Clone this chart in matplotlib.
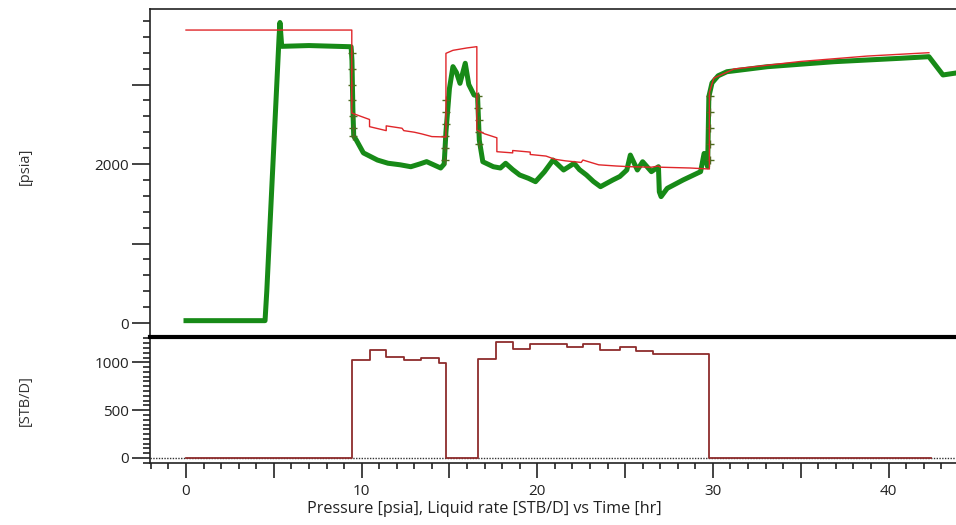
#!/usr/bin/env python3
"""
Pressure / liquid rate history plot vs time
top: measured gauge pressure (green) + model pressure (red)
bottom: liquid rate history (step)
"""

import matplotlib
matplotlib.use('Agg')
import matplotlib.pyplot as plt
from matplotlib.ticker import MultipleLocator, FixedLocator

plt.rcParams['font.family'] = ['Open Sans', 'DejaVu Sans']

# ---- measured pressure (gauge) [hr], [psia] ----
gauge_t = [0.0, 4.5, 4.6, 5.3, 5.35, 5.45, 7.0, 9.4, 9.45, 9.5, 9.55, 9.7,
           10.1, 10.9, 11.5, 12.2, 12.8, 13.3, 13.7, 14.1, 14.5, 14.7,
           14.8, 15.0, 15.2, 15.4, 15.6, 15.9, 16.1, 16.4, 16.6, 16.7,
           16.9, 17.5, 17.9, 18.2, 18.6, 19.0, 19.5, 19.9, 20.4, 20.9,
           21.5, 22.1, 22.4, 22.8, 23.2, 23.6, 24.3, 24.7,
           25.1, 25.3, 25.7, 26.0, 26.5, 26.9, 26.95, 27.05,
           27.4, 28.3, 29.3, 29.5, 29.7, 29.77, 29.95, 30.3, 30.8,
           33.1, 36.9, 40.7, 42.3, 43.1, 44.0]
gauge_p = [30, 30, 400, 3600, 3780, 3480, 3490, 3475, 3300, 2700, 2350, 2300,
           2140, 2050, 2010, 1990, 1966, 2000, 2030, 1990, 1950, 2000,
           2400, 2950, 3225, 3150, 3015, 3267, 3000, 2868, 2860, 2300,
           2029, 1966, 1950, 2009, 1930, 1862, 1820, 1778, 1900, 2050,
           1925, 2009, 1930, 1862, 1780, 1715, 1799, 1843,
           1925, 2113, 1925, 2029, 1904, 1966, 1650, 1590,
           1694, 1799, 1904, 2133, 1966, 2847, 3020, 3110, 3161,
           3224, 3287, 3330, 3350, 3120, 3150]

# '+' samples visible on the fast transients
mark_t = [9.45, 9.46, 9.47, 9.48, 9.49, 9.5, 9.52,
          14.74, 14.76, 14.77, 14.78, 14.79, 14.8,
          16.62, 16.64, 16.66, 16.68, 16.7,
          29.81, 29.82, 29.83, 29.84, 29.85]
mark_p = [3400, 3200, 3000, 2800, 2600, 2450, 2350,
          2050, 2200, 2350, 2500, 2650, 2800,
          2850, 2700, 2550, 2400, 2250,
          2050, 2250, 2450, 2650, 2850]

# ---- model pressure [hr], [psia] ----
model_t = [0.0, 9.44, 9.44, 10.45, 10.45, 11.4, 11.4, 12.3, 12.4, 13.0, 13.4,
           14.0, 14.8, 14.8, 15.2, 16.0, 16.56, 16.56, 17.0, 17.7, 17.7,
           18.6, 18.6, 19.6, 19.6, 20.5, 21.0, 21.6, 22.5, 22.6, 23.5,
           24.5, 25.3, 26.5, 26.9, 27.0, 28.7, 29.8, 29.8, 30.05, 31.2,
           35.0, 38.8, 42.3]
model_p = [3685, 3685, 2641, 2560, 2470, 2420, 2480, 2450, 2420, 2400, 2380,
           2345, 2340, 3392, 3430, 3460, 3476, 2428, 2380, 2330, 2155,
           2140, 2170, 2150, 2120, 2100, 2060, 2040, 2020, 2050, 1990,
           1975, 1966, 1960, 1975, 1960, 1950, 1937, 2900, 3080, 3195,
           3290, 3358, 3400]

# ---- liquid rate history [hr], [STB/D] (value holds from each time on) ----
rate_t = [0.0, 9.44, 10.45, 11.4, 12.4, 13.4, 14.4, 14.8, 16.65, 17.66,
          18.6, 19.6, 21.7, 22.6, 23.6, 24.7, 25.6, 26.6, 29.8, 42.4]
rate_q = [0, 1026, 1131, 1061, 1026, 1044, 998, 0, 1037, 1212,
          1145, 1194, 1166, 1194, 1131, 1166, 1117, 1089, 0, 0]

X_LIM = (-2.05, 44.0)
GREEN = '#178a17'
RED = '#e0262a'
RATE = '#8e2c2c'

fig = plt.figure(figsize=(9.56, 5.25), dpi=100, facecolor='white')
ax1 = fig.add_axes([0.1569, 0.360, 0.8460, 0.6229])
ax2 = fig.add_axes([0.1569, 0.1175, 0.8460, 0.2405])

# ========== top: pressure ==========
ax1.plot(gauge_t, gauge_p, color=GREEN, lw=3.6, solid_joinstyle='round', zorder=2)
ax1.plot(mark_t, mark_p, ls='none', marker='+', ms=6, mew=1.0, color='#4d6b1f', zorder=3)
ax1.plot(model_t, model_p, color=RED, lw=1.0, zorder=4)

ax1.set_xlim(*X_LIM)
ax1.set_ylim(-163, 3950)
ax1.yaxis.set_major_locator(FixedLocator([0, 1000, 2000, 3000]))
ax1.yaxis.set_minor_locator(MultipleLocator(200))
ax1.set_yticklabels(['0', '', '2000', ''])
ax1.tick_params(axis='y', which='major', direction='out', length=13, width=1.2,
                labelsize=11, pad=2, colors='#222')
ax1.tick_params(axis='y', which='minor', direction='out', length=5, width=1.2, colors='#222')
ax1.tick_params(axis='x', which='both', bottom=False, labelbottom=False)
ax1.spines['right'].set_visible(False)
ax1.spines['bottom'].set_visible(False)
for s in ('top', 'left'):
    ax1.spines[s].set_linewidth(1.2)
    ax1.spines[s].set_color('#222')
ax1.set_ylabel('[psia]', fontsize=10.5, color='#333')
ax1.yaxis.set_label_coords(-0.145, 0.52)

# ========== bottom: rate ==========
ax2.axhline(0, color='#333', lw=1.0, ls=(0, (1, 1)), zorder=1)
ax2.step(rate_t, rate_q, where='post', color=RATE, lw=1.3, zorder=2)

ax2.set_xlim(*X_LIM)
ax2.set_ylim(-56, 1265)
ax2.yaxis.set_major_locator(MultipleLocator(500))
ax2.yaxis.set_minor_locator(MultipleLocator(50))
ax2.tick_params(axis='y', which='major', direction='out', length=13, width=1.2,
                labelsize=11, pad=2, colors='#222')
ax2.tick_params(axis='y', which='minor', direction='out', length=5, width=1.2, colors='#222')

# long ticks every 5 hr, labels every 10 hr
ax2.xaxis.set_major_locator(FixedLocator([0, 5, 10, 15, 20, 25, 30, 35, 40]))
ax2.xaxis.set_minor_locator(MultipleLocator(1))
ax2.set_xticklabels(['0', '', '10', '', '20', '', '30', '', '40'])
ax2.tick_params(axis='x', which='major', direction='out', length=11, width=1.2,
                labelsize=11, pad=4, colors='#222')
ax2.tick_params(axis='x', which='minor', direction='out', length=4, width=1.2, colors='#222')

ax2.spines['right'].set_visible(False)
ax2.spines['top'].set_linewidth(3.0)
ax2.spines['top'].set_color('black')
for s in ('bottom', 'left'):
    ax2.spines[s].set_linewidth(1.2)
    ax2.spines[s].set_color('#222')
ax2.set_ylabel('[STB/D]', fontsize=10.5, color='#333')
ax2.yaxis.set_label_coords(-0.145, 0.5)
ax2.set_xlabel('Pressure [psia], Liquid rate [STB/D] vs Time [hr]', fontsize=11.6,
               color='#222')
# the original plot window is wider than the crop, so the title sits left of centre
ax2.xaxis.set_label_coords(0.413, -0.30)

fig.savefig('out.png', dpi=100, facecolor='white')
plt.close(fig)
